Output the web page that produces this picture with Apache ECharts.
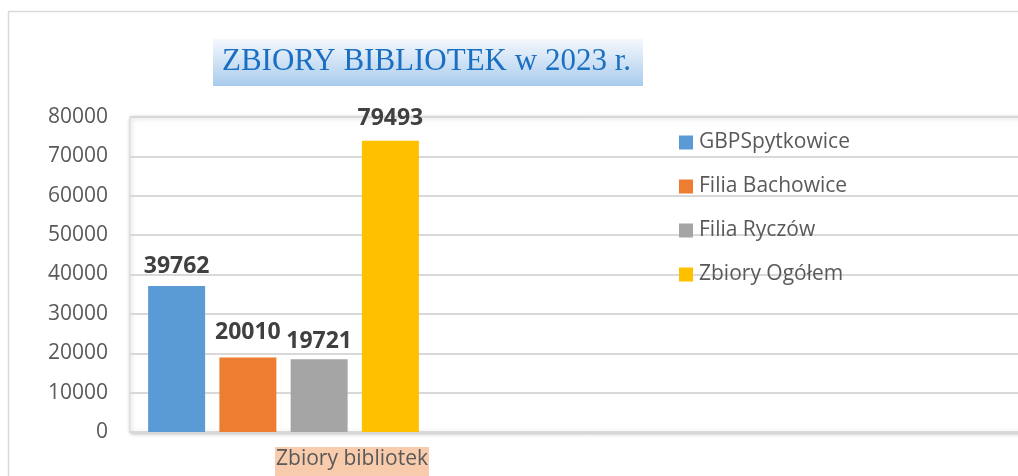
<!DOCTYPE html>
<html>
<head>
<meta charset="utf-8">
<script src="https://cdn.jsdelivr.net/npm/echarts@6/dist/echarts.min.js"></script>
<style>
  html, body { margin: 0; padding: 0; background: #fff; overflow: hidden; }
  /* the plot runs past the right edge of the window, as in the picture */
  #chart { width: 1051px; height: 476px; }
</style>
</head>
<body>
<div id="chart"></div>
<script>
// data
const categories = ['Zbiory bibliotek', '', ''];
const seriesNames = ['GBPSpytkowice', 'Filia Bachowice', 'Filia Ryczów', 'Zbiory Ogółem'];
// bar heights as drawn against the axis
const barValues = [37100, 18950, 18450, 74000];
// numbers printed above the bars
const labelValues = [39762, 20010, 19721, 79493];
const colors = ['#5B9BD5', '#ED7D31', '#A5A5A5', '#FFC000'];
const labelGaps = [8, 13, 6, 11];
const yMin = 0, yMax = 80000, yStep = 10000;

const chart = echarts.init(document.getElementById('chart'));

const series = seriesNames.map((name, i) => ({
    name: name,
    type: 'bar',
    barWidth: 57,
    barGap: '25%',
    itemStyle: { color: colors[i] },
    label: {
        show: true,
        position: 'top',
        distance: labelGaps[i],
        fontFamily: 'Open Sans',
        fontWeight: 'bold',
        fontSize: 23,
        color: '#404040',
        formatter: () => String(labelValues[i])
    },
    data: [barValues[i]]
}));

const option = {
    animation: false,
    textStyle: { fontFamily: 'Open Sans' },
    graphic: [{
        type: 'rect',
        shape: { x: 8.5, y: 11.5, width: 1200, height: 600 },
        style: { fill: 'none', stroke: '#d9d9d9', lineWidth: 1.5 },
        z: -10
    }],
    title: {
        text: 'ZBIORY BIBLIOTEK w 2023 r.',
        left: 213,
        top: 39,
        padding: [7, 12, 9, 9],
        backgroundColor: new echarts.graphic.LinearGradient(0, 0, 0, 1, [
            { offset: 0, color: '#f4f8fd' },
            { offset: 1, color: '#a9cbec' }
        ]),
        textStyle: {
            fontFamily: 'Liberation Serif',
            fontWeight: 'normal',
            fontSize: 31,
            color: '#1a6fc2'
        }
    },
    legend: {
        orient: 'vertical',
        left: 674,
        top: 127,
        itemWidth: 14,
        itemHeight: 14,
        itemGap: 23,
        icon: 'rect',
        textStyle: { fontSize: 21, color: '#595959', lineHeight: 21, padding: [0, 0, 0, 1] },
        data: seriesNames
    },
    grid: {
        left: 130,
        right: 0,
        top: 117,
        bottom: 42,
        show: true,
        backgroundColor: '#fff',
        borderColor: '#d9d9d9',
        borderWidth: 1,
        shadowColor: 'rgba(0,0,0,0.3)',
        shadowBlur: 4,
        shadowOffsetX: 1,
        shadowOffsetY: 1
    },
    xAxis: {
        type: 'category',
        data: categories,
        axisTick: { show: false },
        axisLine: { lineStyle: { color: '#d9d9d9', width: 1.5 } },
        axisLabel: {
            interval: 0,
            margin: 15,
            formatter: v => v ? '{s|}{t|' + v + '}' : '',
            rich: {
                s: { width: 137 },
                t: {
                    fontFamily: 'Open Sans',
                    fontSize: 21,
                    color: '#595959',
                    backgroundColor: '#F8CBAD',
                    padding: [2, 1, 6, 1]
                }
            }
        }
    },
    yAxis: {
        type: 'value',
        min: yMin,
        max: yMax,
        interval: yStep,
        axisLine: { show: false },
        axisTick: { show: false },
        axisLabel: { margin: 22, fontSize: 21, color: '#595959', formatter: v => String(v) },
        splitLine: { lineStyle: { color: '#d9d9d9', width: 2 } }
    },
    series: series
};

chart.setOption(option);
</script>
</body>
</html>
